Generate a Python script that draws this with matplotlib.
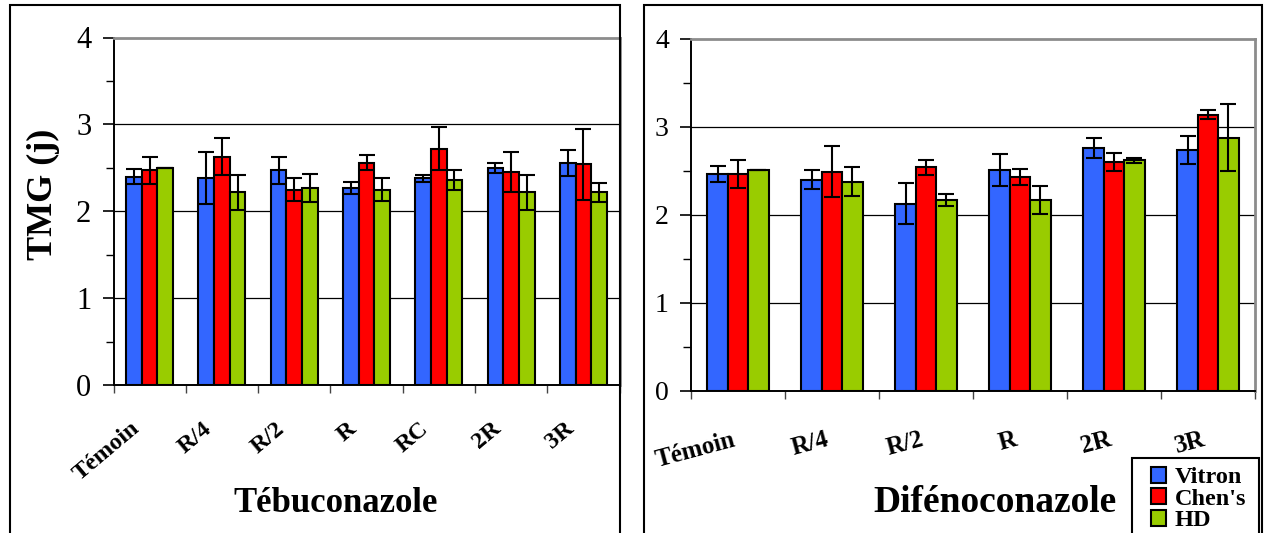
import matplotlib
matplotlib.use("Agg")
import matplotlib.pyplot as plt
import matplotlib.patches as mpatches
import numpy as np

plt.rcParams["font.family"] = ["Liberation Serif", "DejaVu Serif"]

SERIES = ["Vitron", "Chen's", "HD"]
COLORS = ["#3366FF", "#FF0000", "#99CC00"]

# Tébuconazole
tebu_cats = ["Témoin", "R/4", "R/2", "R", "RC", "2R", "3R"]
tebu_vitron = [2.40, 2.38, 2.47, 2.27, 2.38, 2.50, 2.56]
tebu_chens = [2.47, 2.63, 2.25, 2.56, 2.72, 2.45, 2.54]
tebu_hd = [2.50, 2.22, 2.27, 2.25, 2.36, 2.22, 2.22]
tebu_vitron_err = [0.09, 0.30, 0.16, 0.07, 0.04, 0.06, 0.15]
tebu_chens_err = [0.16, 0.21, 0.13, 0.09, 0.25, 0.23, 0.41]
tebu_hd_err = [0.00, 0.20, 0.16, 0.13, 0.12, 0.20, 0.11]

# Difénoconazole
dife_cats = ["Témoin", "R/4", "R/2", "R", "2R", "3R"]
dife_vitron = [2.47, 2.40, 2.13, 2.51, 2.76, 2.74]
dife_chens = [2.47, 2.49, 2.54, 2.43, 2.60, 3.14]
dife_hd = [2.51, 2.38, 2.17, 2.17, 2.62, 2.88]
dife_vitron_err = [0.09, 0.11, 0.23, 0.18, 0.11, 0.16]
dife_chens_err = [0.16, 0.29, 0.09, 0.09, 0.10, 0.05]
dife_hd_err = [0.00, 0.16, 0.07, 0.16, 0.03, 0.38]

W, H = 1264, 533


def px(x0, y0, x1, y1):
    # boite en pixels -> fraction de la figure
    return [x0 / W, 1 - y1 / H, (x1 - x0) / W, (y1 - y0) / H]


def panneau(ax, cats, valeurs, erreurs, rot, decal, taille_ticks, taille_cats):
    n = len(cats)
    x = np.arange(n)
    ancho = 0.217
    for i, (vals, errs) in enumerate(zip(valeurs, erreurs)):
        pos = x + (i - 1) * ancho
        ax.bar(pos, vals, width=ancho, color=COLORS[i], edgecolor="black",
               linewidth=1.5, zorder=3)
        ax.errorbar(pos, vals, yerr=errs, fmt="none", ecolor="black",
                    elinewidth=1.5, capsize=6, capthick=1.5, zorder=4)

    ax.set_xlim(-0.5, n - 0.5)
    ax.set_ylim(0, 4)
    ax.set_yticks([0, 1, 2, 3, 4])
    ax.set_yticks(np.arange(0.5, 4, 1.0), minor=True)
    ax.set_yticklabels(["0", "1", "2", "3", "4"], fontsize=taille_ticks)
    ax.tick_params(axis="y", which="major", length=8, width=1.2, pad=8)
    ax.tick_params(axis="y", which="minor", length=6, width=1.0)
    for y in [1, 2, 3]:
        ax.axhline(y, color="black", linewidth=0.9, zorder=1)

    # graduations entre les categories
    ax.set_xticks(np.arange(-0.5, n, 1.0))
    ax.set_xticklabels([])
    ax.tick_params(axis="x", which="major", length=6, width=1.0, color="#444444")
    for i, c in enumerate(cats):
        ax.annotate(c, xy=(i - 0.13, 0), xycoords=("data", "axes fraction"),
                    xytext=decal, textcoords="offset pixels",
                    rotation=rot, ha="right", va="top", rotation_mode="anchor",
                    fontsize=taille_cats, fontweight="bold")

    ax.spines["left"].set_color("black")
    ax.spines["left"].set_linewidth(1.4)
    ax.spines["bottom"].set_color("black")
    ax.spines["bottom"].set_linewidth(1.4)
    for s in ["top", "right"]:
        ax.spines[s].set_color("#8C8C8C")
        ax.spines[s].set_linewidth(2.0)


fig = plt.figure(figsize=(12.64, 5.33), dpi=100)
fig.patch.set_facecolor("white")

# cadres des deux graphiques + cadre de la legende
for (x0, x1, y0) in [(10, 619.5, 5.5), (644, 1262, 5.5), (1132, 1259, 458)]:
    fig.patches.append(mpatches.Rectangle((x0 / W, -0.1), (x1 - x0) / W, 1.1 - y0 / H,
                                          transform=fig.transFigure, fill=False,
                                          edgecolor="black", linewidth=1.5, zorder=5))

ax1 = fig.add_axes(px(113.5, 37.5, 619.5, 385))
panneau(ax1, tebu_cats,
        [tebu_vitron, tebu_chens, tebu_hd],
        [tebu_vitron_err, tebu_chens_err, tebu_hd_err],
        40, (-10, -33), 22, 17.5)

ax2 = fig.add_axes(px(691, 39, 1255, 391))
panneau(ax2, dife_cats,
        [dife_vitron, dife_chens, dife_hd],
        [dife_vitron_err, dife_chens_err, dife_hd_err],
        15, (6, -37), 20, 18)

fig.text(43 / W, 1 - 194 / H, "TMG (j)", rotation=90, ha="center", va="center",
         fontsize=26, fontweight="bold")
fig.text(336 / W, 1 - 503 / H, "Tébuconazole", ha="center", va="center",
         fontsize=25, fontweight="bold")
fig.text(995 / W, 1 - 503 / H, "Difénoconazole", ha="center", va="center",
         fontsize=27, fontweight="bold")

poignees = [mpatches.Patch(facecolor=COLORS[i], edgecolor="black", linewidth=1.5,
                           label=SERIES[i]) for i in range(3)]
leg = fig.legend(handles=poignees, loc="upper left",
                 bbox_to_anchor=(1151 / W, 1 - 467 / H),
                 prop={"weight": "bold", "size": 17.5},
                 frameon=False,
                 handlelength=0.62, handleheight=0.62, handletextpad=0.35,
                 labelspacing=0.0, borderpad=0, borderaxespad=0)

fig.savefig("out.png", dpi=100, facecolor="white")
